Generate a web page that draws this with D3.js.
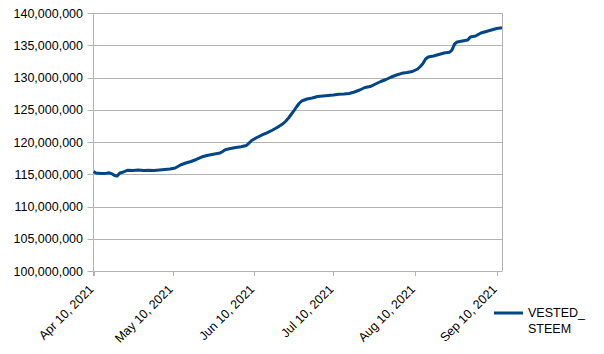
<!DOCTYPE html>
<html><head><meta charset="utf-8">
<script src="https://cdn.jsdelivr.net/npm/d3@7"></script>
<style>body{margin:0;background:#fff}text{font-family:"Liberation Sans",Arial,sans-serif}</style>
</head><body><svg id="c" width="604" height="354"></svg>
<script>
const seriesName = ["VESTED_", "STEEM"];
const dayOffsets = [0,1,3,5,6,7,8,9,10,11,13,15,17,19,21,23,25,27,29,31,32,33,35,37,39,41,43,45,47,48,49,50,52,54,56,58,59,60,62,64,66,68,70,72,73,74,75,76,77,78,79,81,83,85,87,89,91,93,95,97,99,101,103,105,107,109,111,113,115,117,119,121,123,124,125,126,127,129,131,133,135,136,137,138,140,142,143,145,147,149,151,153,155];
const vestedSteem = [115400000,115190000,115120000,115150000,115220000,115070000,114810000,114730000,115190000,115300000,115630000,115580000,115660000,115570000,115610000,115580000,115660000,115740000,115810000,115970000,116200000,116430000,116740000,116980000,117290000,117670000,117910000,118060000,118220000,118290000,118530000,118790000,118990000,119150000,119270000,119460000,119840000,120230000,120700000,121090000,121470000,121860000,122330000,122870000,123260000,123720000,124260000,124810000,125430000,125970000,126360000,126670000,126820000,127050000,127130000,127210000,127290000,127400000,127440000,127520000,127750000,128060000,128450000,128600000,128990000,129380000,129690000,130080000,130390000,130650000,130780000,130930000,131320000,131710000,132170000,132870000,133180000,133330000,133570000,133800000,133910000,134260000,135190000,135500000,135660000,135810000,136280000,136430000,136900000,137130000,137360000,137600000,137700000];
const startDate = "2021-04-10";
const xTickLabels = ["Apr 10, 2021","May 10, 2021","Jun 10, 2021","Jul 10, 2021","Aug 10, 2021","Sep 10, 2021"];
const xTickDates = ["2021-04-10","2021-05-10","2021-06-10","2021-07-10","2021-08-10","2021-09-10"];
const yTicks = [100000000,105000000,110000000,115000000,120000000,125000000,130000000,135000000,140000000];

const parse = d3.utcParse("%Y-%m-%d");
const t0 = parse(startDate);
const data = dayOffsets.map((d,i)=>({date:d3.utcDay.offset(t0,d), v:vestedSteem[i]}));

const svg = d3.select("#c");
const L=93.5, R=502, T=13, B=271;
const x = d3.scaleUtc().domain(d3.extent(data,d=>d.date)).range([L,R]);
const y = d3.scaleLinear().domain([100000000,140000000]).range([B,T]);
const grid="#b3b3b3";

svg.append("g").selectAll("line").data(yTicks).join("line")
  .attr("x1",L-6).attr("x2",R).attr("y1",d=>Math.round(y(d))+0.5).attr("y2",d=>Math.round(y(d))+0.5)
  .attr("stroke",grid).attr("stroke-width",1);
svg.append("line").attr("x1",R+0.5).attr("x2",R+0.5).attr("y1",T).attr("y2",B+0.5).attr("stroke",grid);
svg.append("line").attr("x1",L).attr("x2",L).attr("y1",T).attr("y2",B+5).attr("stroke",grid);
const xt = xTickDates.map(parse);
svg.append("g").selectAll("line").data(xt).join("line")
  .attr("x1",d=>Math.round(x(d))+0.5).attr("x2",d=>Math.round(x(d))+0.5).attr("y1",B).attr("y2",B+5)
  .attr("stroke",grid);
const fmt = d3.format(",");
svg.append("g").selectAll("text").data(yTicks).join("text")
  .attr("x",83).attr("y",d=>y(d)).attr("dy","0.36em").attr("text-anchor","end")
  .attr("font-size","12.5px").attr("fill","#000").text(d=>fmt(d));
svg.append("g").selectAll("text").data(xt).join("text")
  .attr("transform",d=>`translate(${x(d)+1},${B+19}) rotate(-45)`)
  .attr("text-anchor","end").attr("font-size","12.5px").attr("fill","#000")
  .text((d,i)=>xTickLabels[i]);
svg.append("path").datum(data)
  .attr("d",d3.line().x(d=>x(d.date)).y(d=>y(d.v)))
  .attr("fill","none").attr("stroke","#004586").attr("stroke-width",3).attr("stroke-linejoin","round");
svg.append("line").attr("x1",494).attr("x2",523).attr("y1",313).attr("y2",313)
  .attr("stroke","#004586").attr("stroke-width",3);
svg.append("g").selectAll("text").data(seriesName).join("text")
  .attr("x",528).attr("y",(d,i)=>317.3+i*15.5).attr("font-size","12.5px").attr("fill","#000").text(d=>d);
</script></body></html>
